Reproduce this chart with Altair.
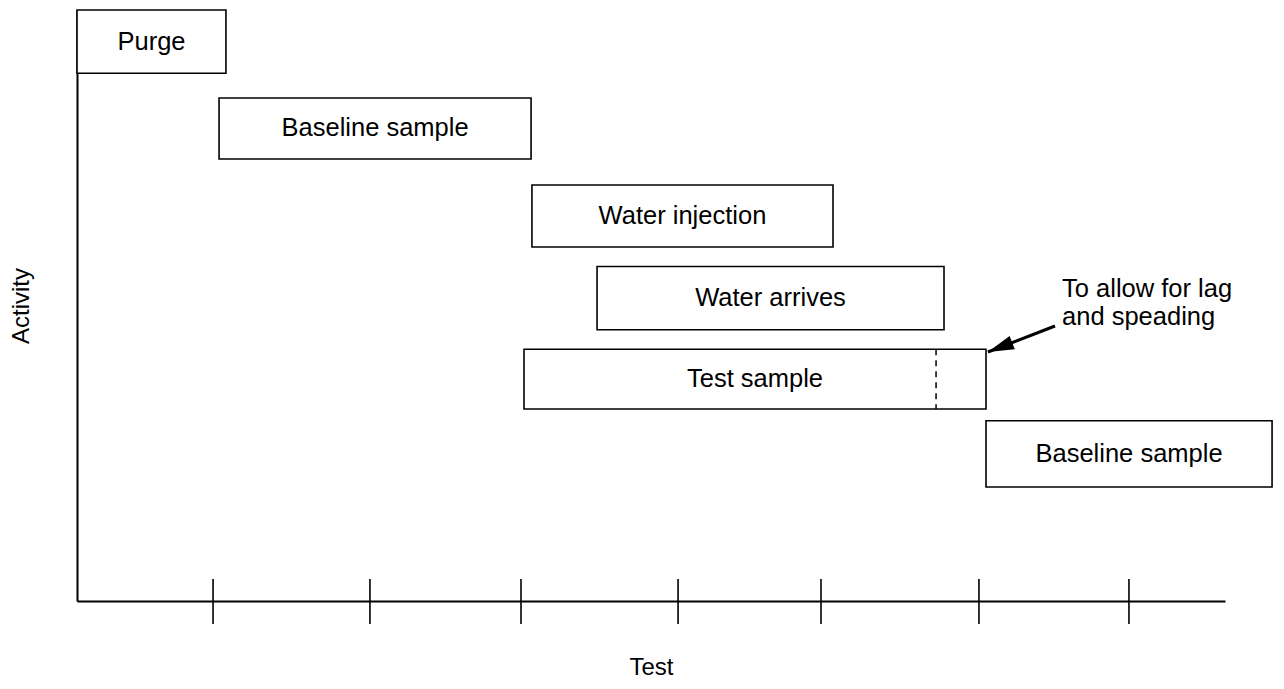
import altair as alt
import pandas as pd

# Activities (x in time units, y in activity-level units)
activities = ["Purge", "Baseline sample", "Water injection", "Water arrives", "Test sample", "Baseline sample"]
x_start = [0.0, 0.947, 3.033, 3.467, 2.98, 6.06]
x_end = [0.993, 3.027, 5.04, 5.78, 6.06, 7.967]
y_top = [10.0, 8.51, 7.04, 5.66, 4.26, 3.05]
y_bottom = [8.93, 7.48, 5.99, 4.59, 3.25, 1.93]

tick_x = [0.907, 1.953, 2.96, 4.007, 4.96, 6.013, 7.013]

dash_x = [5.727]
dash_y_top = [4.26]
dash_y_bottom = [3.25]

arrow_tail_x = [6.52]
arrow_tail_y = [4.653]
arrow_tip_x = [6.073]
arrow_tip_y = [4.213]

note_lines = ["To allow for lag", "and speading"]
note_x = [6.567]
note_y = [5.144]

X_MAX = 7.6533
Y_MAX = 10.0
FONT = "Liberation Sans"

xs = alt.Scale(domain=[0, X_MAX], nice=False, zero=False)
ys = alt.Scale(domain=[0, Y_MAX], nice=False, zero=False)

boxes = pd.DataFrame({
    "activity": activities,
    "x0": x_start, "x1": x_end,
    "y0": y_top, "y1": y_bottom,
})
boxes["xm"] = (boxes["x0"] + boxes["x1"]) / 2
boxes["ym"] = (boxes["y0"] + boxes["y1"]) / 2

rects = alt.Chart(boxes).mark_rect(fill="white", stroke="black", strokeWidth=1.6).encode(
    x=alt.X("x0:Q", scale=xs, axis=alt.Axis(title="Test", domain=True, ticks=False, labels=False,
                                            grid=False, titlePadding=54)),
    x2="x1:Q",
    y=alt.Y("y0:Q", scale=ys, axis=alt.Axis(title="Activity", domain=True, ticks=False, labels=False,
                                            grid=False, titlePadding=44)),
    y2="y1:Q",
)

labels = alt.Chart(boxes).mark_text(fontSize=25.5, font=FONT, color="black", baseline="middle", align="center").encode(
    x=alt.X("xm:Q", scale=xs),
    y=alt.Y("ym:Q", scale=ys),
    text="activity:N",
)

ticks = alt.Chart(pd.DataFrame({"tx": tick_x})).mark_rule(color="black", strokeWidth=1.6).encode(
    x=alt.X("tx:Q", scale=xs),
    y=alt.value(591 - 22),
    y2=alt.value(591 + 23),
)

dash = alt.Chart(pd.DataFrame({"x": dash_x, "y0": dash_y_top, "y1": dash_y_bottom})).mark_rule(
    color="black", strokeWidth=1.5, strokeDash=[6, 5]
).encode(
    x=alt.X("x:Q", scale=xs),
    y=alt.Y("y0:Q", scale=ys),
    y2="y1:Q",
)

arrow_df = pd.DataFrame({"x0": arrow_tail_x, "y0": arrow_tail_y, "x1": arrow_tip_x, "y1": arrow_tip_y})
shaft = alt.Chart(arrow_df).mark_rule(color="black", strokeWidth=3).encode(
    x=alt.X("x0:Q", scale=xs),
    y=alt.Y("y0:Q", scale=ys),
    x2="x1:Q",
    y2="y1:Q",
)
head = alt.Chart(arrow_df).mark_point(
    shape="M0,0L0.55,2L-0.55,2Z", size=676, filled=True, color="black", opacity=1, angle=248.8
).encode(
    x=alt.X("x1:Q", scale=xs),
    y=alt.Y("y1:Q", scale=ys),
)

note = alt.Chart(pd.DataFrame({"x": note_x, "y": note_y, "t": ["\n".join(note_lines)]})).mark_text(
    fontSize=25.5, font=FONT, color="black", align="left", baseline="alphabetic", lineBreak="\n", lineHeight=28
).encode(
    x=alt.X("x:Q", scale=xs),
    y=alt.Y("y:Q", scale=ys),
    text="t:N",
)

chart = alt.layer(rects, labels, ticks, dash, shaft, head, note).properties(
    width=1148,
    height=591,
    padding={"left": 69, "top": 2, "right": 50, "bottom": 79},
    autosize=alt.AutoSizeParams(type="none"),
).configure_view(stroke=None).configure_axis(
    domainColor="black", domainWidth=2,
    titleFont=FONT, titleFontSize=24, titleFontWeight="normal", titleColor="black",
)

chart.save("out.html", embed_options={"renderer": "svg", "actions": False})
